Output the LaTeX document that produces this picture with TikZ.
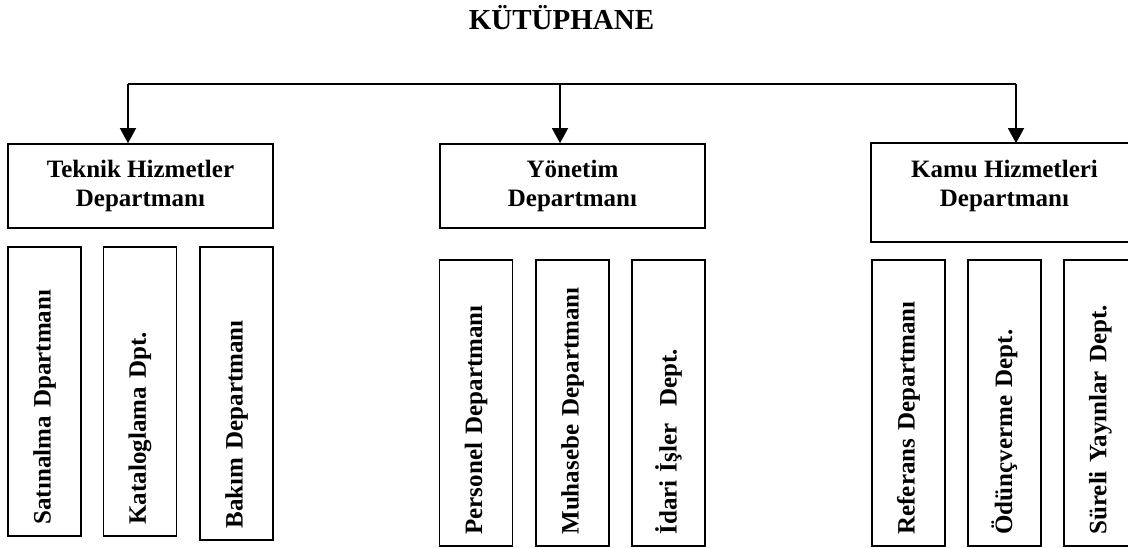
\documentclass[tikz,border=0pt]{standalone}
\usepackage{fontspec}
\setmainfont{Liberation Serif}
\usetikzlibrary{arrows.meta}

\tikzset{
  boxline/.style={draw=black, line width=1.6pt},
  topbox/.style={boxline, rectangle, minimum width=265pt, minimum height=84pt,
    inner sep=0pt, align=center, font=\bfseries\fontsize{25}{29}\selectfont},
  unitbox/.style={boxline, rectangle, rotate=90, minimum height=73pt,
    inner xsep=11.5pt, inner ysep=0pt, align=left, text width=#1,
    font=\bfseries\fontsize{25}{29}\selectfont},
  conn/.style={draw=black, line width=1.3pt},
  arrowconn/.style={conn, -{Triangle[length=15pt, width=16pt]}},
  titletext/.style={font=\bfseries\fontsize{29}{34}\selectfont, inner sep=0pt}
}

\begin{document}
\begin{tikzpicture}[x=1pt, y=-1pt]
  \useasboundingbox (0,0) rectangle (1128,548);
  \clip (0,0) rectangle (1128,548);

  % title
  \node[titletext, anchor=base] (title) at (561.5,30) {KÜTÜPHANE};

  % department boxes
  \node[topbox] (tek) at (140.5,186) {Teknik Hizmetler\\Departmanı};
  \node[topbox] (yon) at (572.5,186) {Yönetim\\Departmanı};
  \node[topbox, draw=none] (kamu) at (1004.5,186) {Kamu Hizmetleri\\Departmanı};
  \draw[boxline] (kamu.north west) rectangle ([yshift=-13pt]kamu.south east);

  % distribution bus
  \coordinate (jL) at (128,84);
  \coordinate (jM) at (560,84);
  \coordinate (jR) at (1016,84);
  \draw[conn] (jL) -- (jR);
  \draw[arrowconn] (jL) -- (jL |- tek.north);
  \draw[arrowconn] (jM) -- (jM |- yon.north);
  \draw[arrowconn] (jR) -- (jR |- kamu.north);

  % technical services units
  \node[unitbox=266pt] (sat) at (44.5,391.5) {Satınalma Dpartmanı};
  \node[unitbox=266pt] (kat) at (140,391.5) {Kataloglama Dpt.};
  \node[unitbox=270pt] (bak) at (236.5,393.5) {Bakım Departmanı};

  % administration units
  \node[unitbox=263pt] (per) at (476,403) {Personel Departmanı};
  \node[unitbox=263pt] (muh) at (572.5,403) {Muhasebe Departmanı};
  \node[unitbox=263pt] (ida) at (668.5,403) {İdari İşler\ \ Dept.};

  % public services units
  \node[unitbox=263pt] (ref) at (908.5,403) {Referans Departmanı};
  \node[unitbox=263pt] (odu) at (1004.5,403) {Ödünçverme Dept.};
  \node[unitbox=263pt] (sur) at (1100.5,403) {Süreli Yayınlar Dept.};
\end{tikzpicture}
\end{document}
